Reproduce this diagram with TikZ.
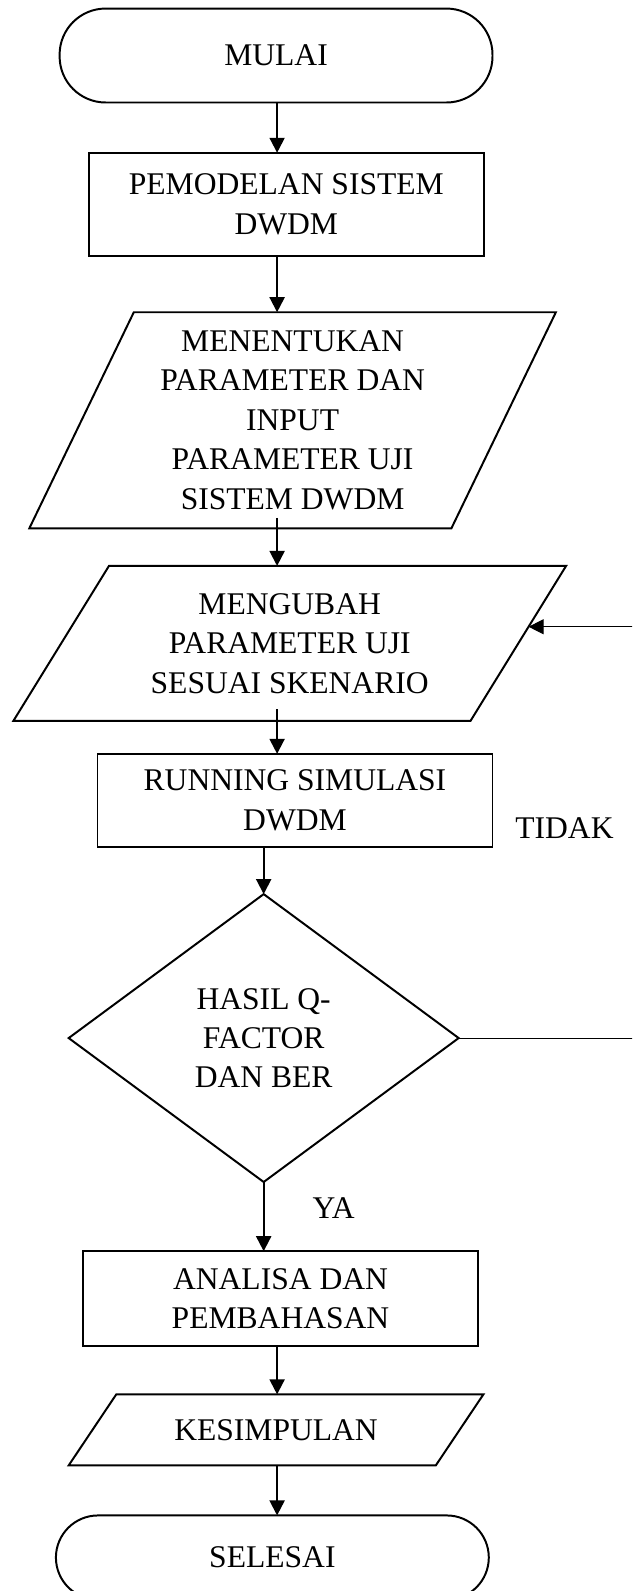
\documentclass[tikz,border=0pt]{standalone}
\usepackage{fontspec}
\setmainfont{Liberation Serif}
\usetikzlibrary{positioning, arrows.meta, shapes.geometric, calc}

\begin{document}
\begin{tikzpicture}[
    box/.style={
      draw, line width=0.75pt, align=center, inner sep=1pt, outer sep=0pt,
      font=\fontsize{12}{15}\selectfont
    },
    terminal/.style={box, rounded corners=17.5pt, minimum width=164.5pt,
      minimum height=35.7pt},
    process/.style={box, minimum width=150.1pt},
    io/.style={box, trapezium, trapezium stretches=true},
    decision/.style={box, diamond, inner sep=0pt},
    flow/.style={-{Triangle[length=5.7pt, width=5.7pt]}, line width=0.75pt},
    backline/.style={-{Triangle[length=5.7pt, width=5.7pt]}, line width=0.4pt},
    tag/.style={inner sep=0pt, font=\fontsize{12}{15}\selectfont},
]
    \useasboundingbox (0,0) rectangle (240.2pt,-604.6pt);
    \clip (0,0) rectangle (240.2pt,-604.6pt);

    % Main column
    \node[terminal] (mulai) at (104.9pt,-21.1pt) {MULAI};
    \node[process, minimum height=39.1pt, below=19.1pt of mulai, xshift=3.9pt]
      (model) {PEMODELAN SISTEM\\DWDM};
    \node[io, minimum width=200.3pt, minimum height=82.1pt,
      trapezium left angle=64.3, trapezium right angle=115.7,
      below=21.5pt of model, xshift=2.4pt]
      (param) {MENENTUKAN\\PARAMETER DAN\\INPUT\\PARAMETER UJI\\SISTEM DWDM};
    \node[io, minimum width=210.1pt, minimum height=58.9pt,
      trapezium left angle=54.6, trapezium right angle=125.4,
      below=14.3pt of param, xshift=-1.1pt]
      (ubah) {MENGUBAH\\PARAMETER UJI\\SESUAI SKENARIO};
    \node[process, minimum height=35.3pt, below=12.5pt of ubah, xshift=2pt]
      (run) {RUNNING SIMULASI\\DWDM};
    \node[decision, minimum width=148.2pt, minimum height=109.4pt,
      below=18pt of run, xshift=-11.9pt]
      (dec) {HASIL Q-\\FACTOR\\DAN BER};
    \node[process, minimum height=36pt, below=26.3pt of dec, xshift=6.4pt]
      (ana) {ANALISA DAN\\PEMBAHASAN};
    \node[io, minimum width=157.7pt, minimum height=27pt,
      trapezium left angle=40.4, trapezium right angle=139.6,
      below=18.4pt of ana, xshift=-1.7pt]
      (simpul) {KESIMPULAN};
    \node[terminal, rounded corners=16pt, minimum height=32pt,
      below=19pt of simpul, xshift=-1.4pt] (selesai) {SELESAI};

    % Connectors
    \coordinate (axis) at (105.3pt,0);
    \draw[flow] (mulai.south -| axis) -- (model.north -| axis);
    \draw[flow] (model.south -| axis) -- (param.north -| axis);
    \draw[flow] ($(param.south -| axis)+(0,4pt)$) -- (ubah.north -| axis);
    \draw[flow] ($(ubah.south -| axis)+(0,4.5pt)$) -- (run.north -| axis);
    \draw[flow] (run.south -| dec.north) -- (dec.north);
    \draw[flow] (dec.south) -- (ana.north -| dec.south);
    \draw[flow] (ana.south -| axis) -- (simpul.north -| axis);
    \draw[flow] (simpul.south -| axis) -- (selesai.north -| axis);

    % Loop back
    \coordinate (fbx) at (243pt,0);
    \draw[backline] (dec.east) -- (dec.east -| fbx) -- (ubah.4 -| fbx) -- (ubah.4);

    % Labels
    \node[tag, below right=5.8pt and 18.4pt of dec.south] (ya) {YA};
    \node[tag, below right=6.5pt and 8.5pt of run.east] (tidak) {TIDAK};
\end{tikzpicture}
\end{document}
